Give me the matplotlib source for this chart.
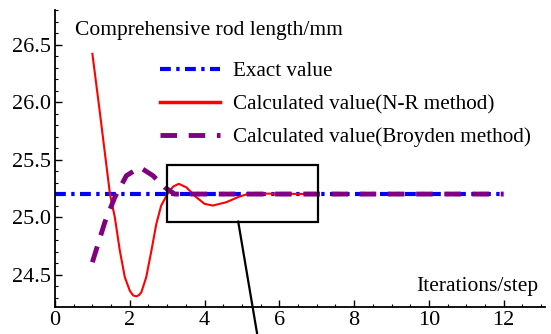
import matplotlib
matplotlib.use("Agg")
import matplotlib.pyplot as plt
from matplotlib.ticker import MultipleLocator, FormatStrFormatter
from matplotlib.patches import Rectangle
from matplotlib.lines import Line2D

plt.rcParams['font.family'] = ['Liberation Serif', 'DejaVu Serif']

# Exact rod length
exact_x = [0, 12]
exact_y = [25.2, 25.2]

# Newton-Raphson iterate history
nr_x = [1.0, 1.2, 1.47, 1.6, 1.733, 1.867, 2.0, 2.09, 2.18, 2.25, 2.31, 2.44,
        2.58, 2.71, 2.84, 3.02, 3.16, 3.31, 3.51, 3.78, 4.0, 4.22, 4.58, 4.93,
        5.2, 7.0]
nr_y = [26.42, 25.91, 25.2, 24.998, 24.71, 24.477, 24.36, 24.318, 24.31,
        24.322, 24.346, 24.477, 24.71, 24.94, 25.1, 25.207, 25.265, 25.289,
        25.259, 25.172, 25.115, 25.1, 25.129, 25.178, 25.205, 25.2]

# Broyden iterate history
br_x = [1.0, 1.333, 1.6, 1.91, 2.27, 2.62, 2.93, 3.2, 12.0]
br_y = [24.607, 24.955, 25.172, 25.36, 25.433, 25.36, 25.26, 25.2, 25.2]

labels = ["Exact value", "Calculated value(N-R method)",
          "Calculated value(Broyden method)"]

fig = plt.figure(figsize=(5.51, 3.34), dpi=100)
ax = fig.add_axes([0.0998, 0.0817, 0.889, 0.888])

blue_ls = (0, (2.6, 1.3, 0.8, 1.3))
purple_ls = (0, (3.4, 2.4))

ax.plot(exact_x, exact_y, color='#0000ff', lw=3.0, linestyle=blue_ls)
ax.plot(nr_x, nr_y, color='#ff0000', lw=1.5)
ax.plot(br_x, br_y, color='#800080', lw=3.5, linestyle=purple_ls)

# zoom window and its leader line
ax.add_patch(Rectangle((3.0, 24.96), 4.04, 0.49, fill=False,
                       edgecolor='black', lw=1.6, zorder=5))
ax.plot([4.9, 5.45], [24.96, 23.9], color='black', lw=1.6, clip_on=False,
        zorder=5)

ax.set_xlim(0, 13.1)
ax.set_ylim(24.22, 26.8)
ax.xaxis.set_major_locator(MultipleLocator(2))
ax.xaxis.set_minor_locator(MultipleLocator(0.5))
ax.yaxis.set_major_locator(MultipleLocator(0.5))
ax.yaxis.set_minor_locator(MultipleLocator(0.1))
ax.yaxis.set_major_formatter(FormatStrFormatter('%.1f'))

for s in ['top', 'right']:
    ax.spines[s].set_visible(False)
for s in ['left', 'bottom']:
    ax.spines[s].set_linewidth(1.3)

ax.tick_params(which='major', direction='in', length=5, width=1.0,
               labelsize=16, pad=3)
ax.tick_params(which='minor', direction='in', length=2.5, width=0.8)

ax.text(0.53, 26.62, "Comprehensive rod length/mm", fontsize=15.5,
        va='center', ha='left')
ax.text(12.93, 24.40, "Iterations/step", fontsize=15.5, va='center',
        ha='right')

handles = [Line2D([], [], color='#0000ff', lw=3.0, linestyle=blue_ls),
           Line2D([], [], color='#ff0000', lw=2.5),
           Line2D([], [], color='#800080', lw=3.5, linestyle=purple_ls)]
ax.legend(handles, labels, loc='upper left', bbox_to_anchor=(0.214, 0.827),
          frameon=False, fontsize=15.2, handlelength=2.85, handletextpad=0.6,
          labelspacing=0.62, borderaxespad=0, borderpad=0)

fig.savefig("out.png", dpi=100)
